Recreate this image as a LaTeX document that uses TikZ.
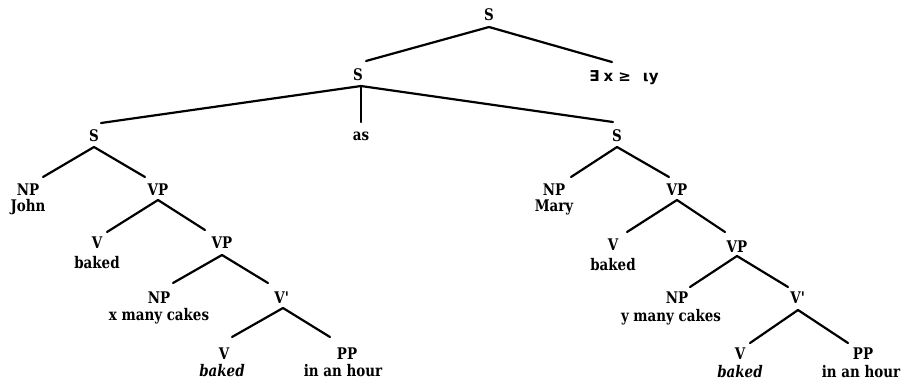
\documentclass[tikz,border=0pt]{standalone}
\usepackage{fontspec}
\setmainfont{DejaVu Serif}[FakeStretch=0.84]
\newfontfamily\symfont{DejaVu Sans}
\usetikzlibrary{calc}
\newcommand\treebr[4]{\draw ($(#1)+(#2)$) -- ($(#3)+(#4)$);}
\begin{document}
\begin{tikzpicture}[x=1pt,y=-1pt,
  lab/.style={inner sep=0pt,font=\fontsize{16}{18}\selectfont\bfseries},
  wd/.style={inner sep=0pt,font=\fontsize{16}{18}\selectfont\bfseries},
  every path/.style={line width=2.2pt,line cap=round}]
\useasboundingbox (0,0) rectangle (904,384);
\fill[white] (0,0) rectangle (904,384);
% top
\node[lab] (s0) at (489,15) {S};
\node[lab] (s1) at (358,75) {S};
\node[inner sep=0pt,font=\fontsize{15}{17}\selectfont\symfont\bfseries] (q) at (624,78) {∃\hspace{4pt}x\hspace{5pt}≥\hspace{12pt}ιy};
\node[wd] (as) at (361,136) {as};
\node[lab] (sL) at (94,136) {S};
\node[lab] (sR) at (617,136) {S};
% left
\node[lab] (npJ) at (28,190) {NP};
\node[wd] (john) at (28,207) {John};
\node[lab] (vpL) at (158,190) {VP};
\node[lab] (vL) at (97,243) {V};
\node[wd] (bakedL) at (97,263) {baked};
\node[lab] (vpL2) at (222,243) {VP};
\node[lab] (npL) at (159,298) {NP};
\node[wd] (xc) at (159,316) {x many cakes};
\node[lab] (vbL) at (282,298) {V\textquotesingle};
\node[lab] (vL3) at (224,354) {V};
\node[wd] (bakedL3) at (222,371) {\itshape baked};
\node[lab] (ppL) at (347,354) {PP};
\node[wd] (hourL) at (343,371) {in an hour};
% right
\node[lab] (npR) at (554,190) {NP};
\node[wd] (mary) at (554,207) {Mary};
\node[lab] (vpR) at (677,190) {VP};
\node[lab] (vR) at (613,245) {V};
\node[wd] (bakedR) at (613,265) {baked};
\node[lab] (vpR2) at (737,247) {VP};
\node[lab] (npR2) at (677,298) {NP};
\node[wd] (yc) at (671,317) {y many cakes};
\node[lab] (vbR) at (798,298) {V\textquotesingle};
\node[lab] (vR3) at (740,354) {V};
\node[wd] (bakedR3) at (740,372) {\itshape baked};
\node[lab] (ppR) at (863,354) {PP};
\node[wd] (hourR) at (861,372) {in an hour};
% branches
\treebr{s0}{0,12}{s1}{8,-14}
\treebr{s0}{0,12}{q}{-12,-16}
\treebr{s1}{3,11}{sL}{7,-13}
\treebr{s1}{3,11}{as}{0,-14}
\treebr{s1}{3,11}{sR}{-4,-14}
\treebr{sL}{0,11}{npJ}{15,-13}
\treebr{sL}{0,11}{vpL}{-13,-13}
\treebr{vpL}{0,10}{vL}{10,-11}
\treebr{vpL}{0,10}{vpL2}{-17,-13}
\treebr{vpL2}{0,12}{npL}{14,-15}
\treebr{vpL2}{0,12}{vbL}{-14,-15}
\treebr{vbL}{1,10}{vL3}{8,-17}
\treebr{vbL}{1,10}{ppL}{-17,-17}
\treebr{sR}{0,11}{npR}{17,-13}
\treebr{sR}{0,11}{vpR}{-8,-13}
\treebr{vpR}{0,10}{vR}{14,-13}
\treebr{vpR}{0,10}{vpR2}{-12,-15}
\treebr{vpR2}{0,9}{npR2}{13,-11}
\treebr{vpR2}{0,9}{vbR}{-10,-11}
\treebr{vbR}{0,12}{vR3}{10,-11}
\treebr{vbR}{0,12}{ppR}{-15,-11}
\end{tikzpicture}
\end{document}
